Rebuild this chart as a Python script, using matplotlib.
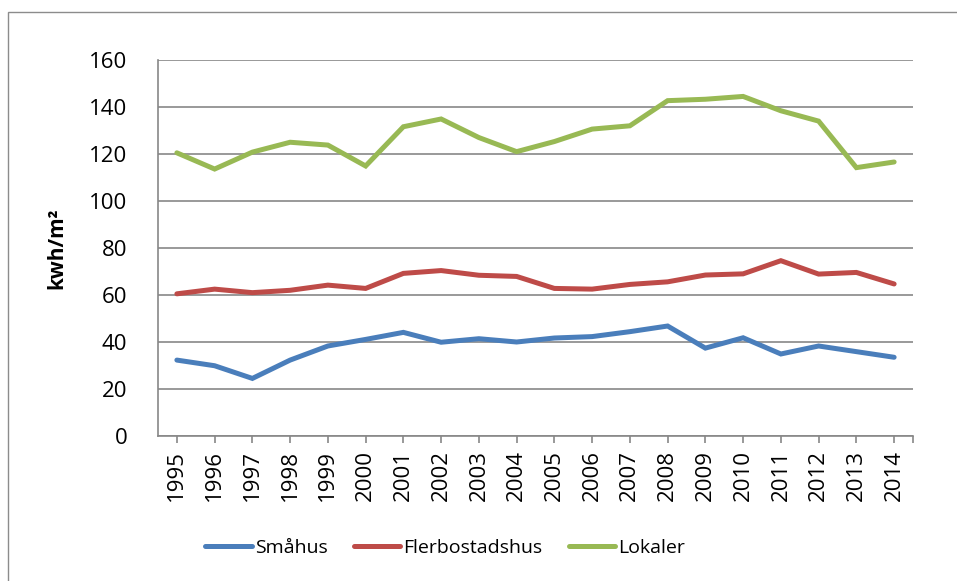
import matplotlib
matplotlib.use("Agg")
import matplotlib.pyplot as plt
from matplotlib.patches import Rectangle

years = [str(y) for y in range(1995, 2015)]
smahus = [32.3, 29.9, 24.5, 32.3, 38.3, 41.1, 44.1, 39.9, 41.4, 40.0,
          41.7, 42.3, 44.4, 46.8, 37.4, 41.8, 34.9, 38.3, 35.9, 33.5]
flerbostadshus = [60.5, 62.5, 61.0, 62.0, 64.2, 62.8, 69.2, 70.4, 68.4, 67.9,
                  62.8, 62.5, 64.5, 65.6, 68.5, 69.0, 74.6, 68.9, 69.6, 64.7]
lokaler = [120.5, 113.6, 120.8, 125.0, 123.8, 114.9, 131.6, 134.9, 127.0, 121.0,
           125.3, 130.6, 132.0, 142.7, 143.3, 144.5, 138.4, 134.0, 114.2, 116.6]

series_names = ["Småhus", "Flerbostadshus", "Lokaler"]
colors = ["#4A7EBB", "#BE4B48", "#98B954"]

plt.rcParams["font.family"] = ["Open Sans", "DejaVu Sans"]

fig = plt.figure(figsize=(9.57, 5.81), dpi=100)
ax = fig.add_axes([158 / 957, 1 - 436 / 581, (913 - 158) / 957, (436 - 60) / 581])

# outer chart frame
fig.patches.append(Rectangle((8 / 957, -0.05), 1.0, 1 - 12 / 581 + 0.05,
                             transform=fig.transFigure, fill=False,
                             edgecolor="#8c8c8c", lw=1.0))

x = list(range(len(years)))
for vals, name, c in zip([smahus, flerbostadshus, lokaler], series_names, colors):
    ax.plot(x, vals, color=c, lw=3.6, label=name, solid_capstyle="round",
            solid_joinstyle="miter")

ax.set_xlim(-0.5, len(years) - 0.5)
ax.set_ylim(0, 160)
ax.set_yticks(range(0, 161, 20))
ax.yaxis.grid(True, color="#878787", lw=1.2)
ax.set_axisbelow(True)

ax.set_xticks(x)
ax.set_xticklabels(years, rotation=90, fontsize=16)
ax.set_xticks([len(years) - 0.5], minor=True)
ax.tick_params(axis="x", which="both", length=5, width=1.2, color="#878787", pad=5)
ax.tick_params(axis="y", length=0, labelsize=16, pad=22)

for side in ["top", "right"]:
    ax.spines[side].set_visible(False)
for side in ["left", "bottom"]:
    ax.spines[side].set_color("#878787")
    ax.spines[side].set_linewidth(1.2)

ax.set_ylabel("kwh/m²", fontsize=15, fontweight="bold", labelpad=16)

fig.legend(loc="center", bbox_to_anchor=(445 / 957, 1 - 548 / 581), ncol=3,
           frameon=False, fontsize=14, handlelength=2.4, columnspacing=1.35,
           handletextpad=0.15)

fig.savefig("out.png", dpi=100, facecolor="white")
